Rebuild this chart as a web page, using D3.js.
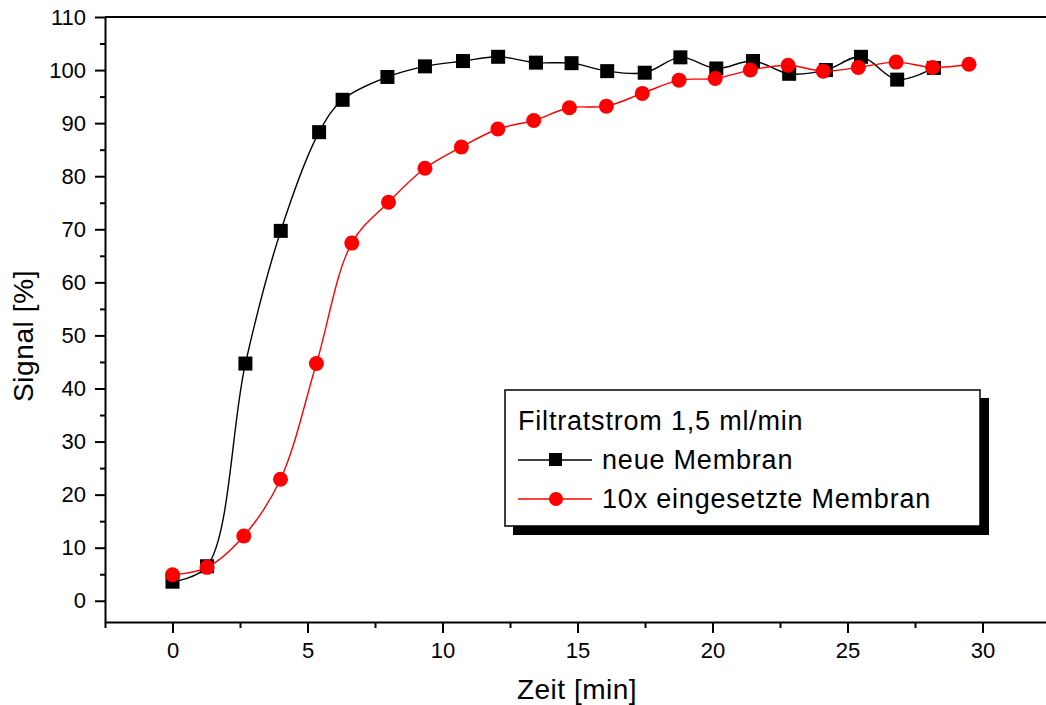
<html>
<meta charset="utf-8" />
<head>
<title>Signal vs Zeit</title>
<style>
body { margin: 0; background: #fff; }
svg { display: block; }
svg text { font-family: "Liberation Sans", Arial, sans-serif; fill: black; }
.axis path, .axis line { stroke: black; stroke-width: 2px; }
.axis text { font-size: 22px; }
</style>
<script src="https://d3js.org/d3.v7.min.js" charset="utf-8"></script>
</head>
<body>
<svg class="chart" width="1046" height="705"></svg>

<script>
/********
 * Data *
 ********/

// neue Membran
var neueX = [0, 1.28, 2.7, 4.01, 5.43, 6.3, 7.96, 9.35, 10.76, 12.06, 13.46, 14.78,
             16.1, 17.49, 18.81, 20.14, 21.5, 22.84, 24.2, 25.5, 26.84, 28.2];
var neueY = [3.6, 6.5, 44.7, 69.7, 88.3, 94.4, 98.7, 100.7, 101.7, 102.5, 101.4, 101.3,
             99.8, 99.5, 102.4, 100.3, 101.7, 99.3, 100.0, 102.5, 98.2, 100.4];

// 10x eingesetzte Membran
var altX = [0, 1.28, 2.64, 4.0, 5.33, 6.64, 8.0, 9.35, 10.7, 12.05, 13.38, 14.7,
            16.07, 17.4, 18.76, 20.1, 21.4, 22.8, 24.1, 25.4, 26.8, 28.15, 29.5];
var altY = [4.9, 6.3, 12.2, 22.9, 44.7, 67.4, 75.1, 81.5, 85.5, 88.9, 90.5, 92.9,
            93.2, 95.6, 98.1, 98.4, 100, 100.9, 99.8, 100.5, 101.5, 100.5, 101.1];

var xTicks = [0, 5, 10, 15, 20, 25, 30];
var xMinor = [-2.5, 2.5, 7.5, 12.5, 17.5, 22.5, 27.5, 32.5];
var yTicks = [0, 10, 20, 30, 40, 50, 60, 70, 80, 90, 100, 110];
var yMinor = [5, 15, 25, 35, 45, 55, 65, 75, 85, 95, 105];

var legendTitle = "Filtratstrom 1,5 ml/min";
var seriesNames = ["neue Membran", "10x eingesetzte Membran"];

/**********
 * Scales *
 **********/

var x = d3.scaleLinear().domain([-2.5, 33]).range([105, 105 + 35.5 * 27]);
var y = d3.scaleLinear().domain([-4, 110]).range([622, 17]);

var svg = d3.select(".chart");

/********
 * Axes *
 ********/

// bottom axis
svg.append("g")
    .attr("class", "axis")
    .attr("transform", "translate(0,622)")
    .call(d3.axisBottom(x).tickValues(xTicks).tickSize(11).tickSizeOuter(0).tickPadding(8))
    .selectAll("text").attr("dy", "0.75em");

svg.append("g")
    .attr("class", "axis")
    .attr("transform", "translate(0,622)")
    .call(d3.axisBottom(x).tickValues(xMinor).tickSize(6).tickSizeOuter(0).tickFormat(""))
    .select(".domain").remove();

// left axis
svg.append("g")
    .attr("class", "axis")
    .attr("transform", "translate(105,0)")
    .call(d3.axisLeft(y).tickValues(yTicks).tickSize(10).tickSizeOuter(0).tickPadding(9));

svg.append("g")
    .attr("class", "axis")
    .attr("transform", "translate(105,0)")
    .call(d3.axisLeft(y).tickValues(yMinor).tickSize(5).tickSizeOuter(0).tickFormat(""))
    .select(".domain").remove();

// top frame line
svg.append("line")
    .attr("x1", x(-2.5)).attr("x2", x(33))
    .attr("y1", y(110)).attr("y2", y(110))
    .attr("stroke", "black").attr("stroke-width", 2);

// axis titles
svg.append("text")
    .text("Zeit [min]")
    .attr("x", 577)
    .attr("y", 699)
    .style("font-size", "28px")
    .style("letter-spacing", "0.5px")
    .style("text-anchor", "middle");

svg.append("text")
    .text("Signal [%]")
    .attr("transform", "translate(33,336) rotate(-90)")
    .style("font-size", "28px")
    .style("letter-spacing", "0.6px")
    .style("text-anchor", "middle");

/**********
 * Series *
 **********/

var line = d3.line()
    .x(function(d){ return x(d[0]); })
    .y(function(d){ return y(d[1]); })
    .curve(d3.curveCatmullRom.alpha(0.5));

var neue = d3.zip(neueX, neueY);
var alt = d3.zip(altX, altY);

svg.append("path")
    .datum(neue)
    .attr("d", line)
    .attr("fill", "none")
    .attr("stroke", "black")
    .attr("stroke-width", 1.4);

svg.selectAll(".sq")
    .data(neue)
  .enter().append("rect")
    .attr("class", "sq")
    .attr("x", function(d){ return x(d[0]) - 7; })
    .attr("y", function(d){ return y(d[1]) - 7; })
    .attr("width", 14)
    .attr("height", 14)
    .attr("fill", "black");

svg.append("path")
    .datum(alt)
    .attr("d", line)
    .attr("fill", "none")
    .attr("stroke", "red")
    .attr("stroke-width", 1.4);

svg.selectAll(".dot")
    .data(alt)
  .enter().append("circle")
    .attr("class", "dot")
    .attr("cx", function(d){ return x(d[0]); })
    .attr("cy", function(d){ return y(d[1]); })
    .attr("r", 7.5)
    .attr("fill", "red");

/**********
 * Legend *
 **********/

var legend = svg.append("g").attr("class", "legend");

legend.append("rect")
    .attr("x", 513).attr("y", 398)
    .attr("width", 476).attr("height", 137)
    .attr("fill", "black");

legend.append("rect")
    .attr("x", 505).attr("y", 390)
    .attr("width", 475).attr("height", 136)
    .attr("fill", "white")
    .attr("stroke", "black")
    .attr("stroke-width", 1.5);

legend.append("text")
    .text(legendTitle)
    .attr("x", 518).attr("y", 430)
    .style("font-size", "27px")
    .style("letter-spacing", "0.8px");

var rows = legend.selectAll(".row")
    .data(seriesNames)
  .enter().append("g")
    .attr("class", "row")
    .attr("transform", function(d, i){ return "translate(0," + i * 39 + ")"; });

rows.append("line")
    .attr("x1", 518).attr("x2", 592)
    .attr("y1", 460).attr("y2", 460)
    .attr("stroke", function(d, i){ return i === 0 ? "black" : "red"; })
    .attr("stroke-width", 1.4);

rows.filter(function(d, i){ return i === 0; })
  .append("rect")
    .attr("x", 549).attr("y", 453)
    .attr("width", 13).attr("height", 13)
    .attr("fill", "black");

rows.filter(function(d, i){ return i === 1; })
  .append("circle")
    .attr("cx", 556).attr("cy", 460)
    .attr("r", 7)
    .attr("fill", "red");

rows.append("text")
    .text(function(d){ return d; })
    .attr("x", 602).attr("y", 469)
    .style("font-size", "27px")
    .style("letter-spacing", "0.8px");

</script>
</body>
</html>
